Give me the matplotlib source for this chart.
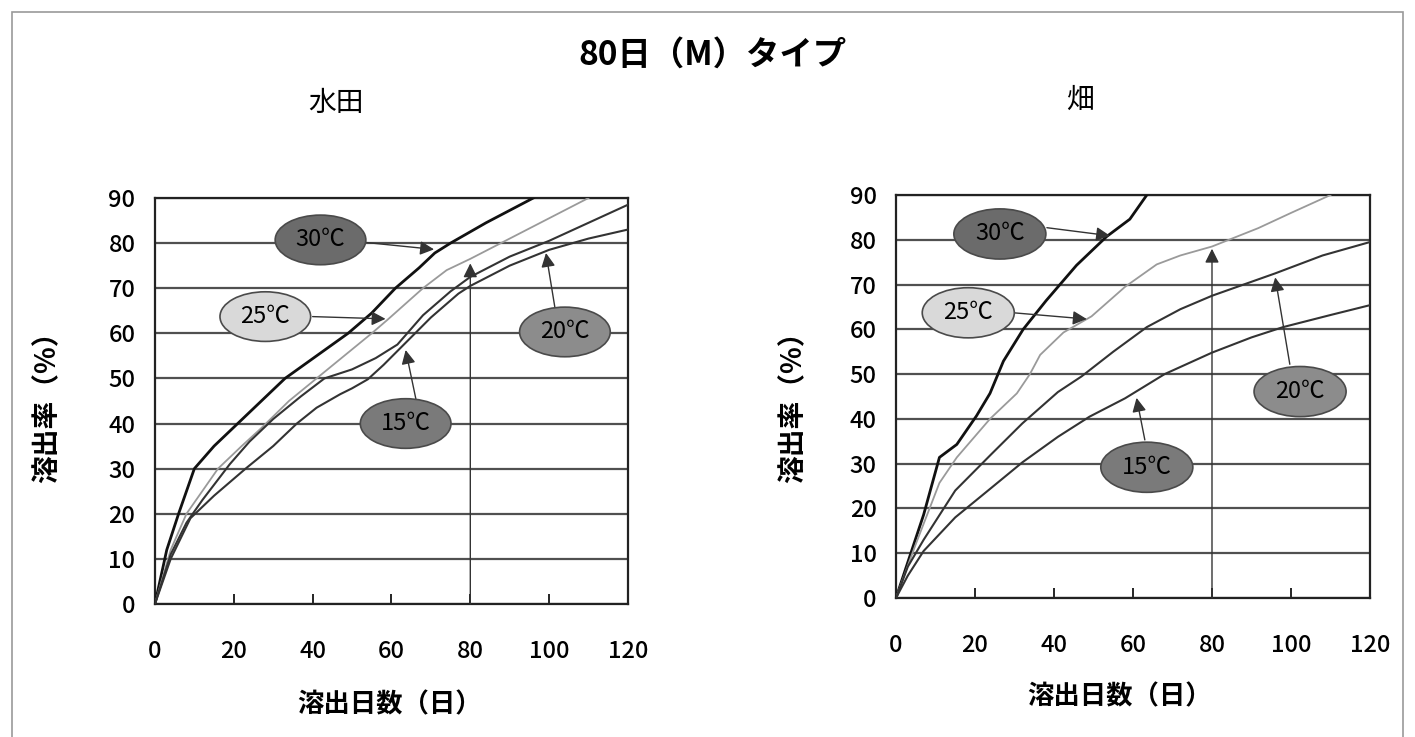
import matplotlib
matplotlib.use('Agg')
import matplotlib.pyplot as plt
from matplotlib.patches import Ellipse, Rectangle

plt.rcParams['font.family'] = ['Noto Sans CJK JP', 'DejaVu Sans']

# ---- 水田 (paddy) ----
paddy_x_30 = [0, 3, 6, 10, 15, 21, 27, 33, 41, 49, 55, 61, 67, 71, 75, 84, 96]
paddy_y_30 = [0, 12, 20, 30, 35, 40, 45, 50, 55, 60, 64.5, 70, 74.5, 77.8, 80, 84.5, 90]
paddy_x_25 = [0, 4, 8, 12, 16, 22, 27, 34, 41, 48, 55, 59, 68, 74, 80, 90, 100, 110]
paddy_y_25 = [0, 12, 20, 25, 30, 35, 39, 45, 50, 55, 60, 63, 70, 74, 76.5, 81, 85.5, 90]
paddy_x_20 = [0, 4, 8, 12, 19, 24, 30, 37, 43, 50, 56, 61.5, 68, 75, 80, 90, 100, 110, 120]
paddy_y_20 = [0, 11, 18, 23, 31, 36, 41, 46, 50, 52, 54.5, 57.5, 64, 69.3, 72.5, 77, 80.5, 84.5, 88.5]
paddy_x_15 = [0, 4, 9, 15, 23, 30, 36, 41, 47, 50, 54, 58, 62, 70, 77, 80, 90, 100, 110, 120]
paddy_y_15 = [0, 10, 19, 24, 30, 35, 40, 43.5, 46.5, 47.8, 49.8, 53, 56.5, 63.5, 68.8, 70.5, 75, 78.5, 81, 83]

# ---- 畑 (upland) ----
field_x_30 = [0, 3, 7, 11, 15.4, 20.4, 23.8, 27.2, 32.2, 38, 45.7, 53.3, 59.2, 63.5]
field_y_30 = [0, 8, 18.6, 31.4, 34.3, 40.7, 45.7, 52.9, 60, 66.4, 74.3, 80.7, 84.6, 90]
field_x_25 = [0, 5, 11, 15.4, 23.8, 30.6, 33.9, 36.5, 42.4, 49.5, 58, 66, 72, 80, 91.7, 100, 110]
field_y_25 = [0, 12, 25.7, 31.4, 40, 45.7, 50, 54.3, 59.3, 62.9, 69.5, 74.5, 76.5, 78.5, 82.6, 86, 90]
field_x_20 = [0, 3, 7, 15, 24, 32, 41, 47, 55, 63.5, 72, 80, 88, 96, 108, 120]
field_y_20 = [0, 7, 13, 24, 32, 39, 46, 49.5, 55, 60.5, 64.5, 67.5, 70, 72.5, 76.5, 79.5]
field_x_15 = [0, 3, 7, 15, 24, 32, 41, 49, 58, 68, 80, 90, 98, 110, 120]
field_y_15 = [0, 5, 10.5, 18, 24.5, 30.3, 36, 40.5, 44.6, 50, 54.8, 58.2, 60.5, 63.2, 65.4]

temps = ['30℃', '25℃', '20℃', '15℃']

fig = plt.figure(figsize=(14.15, 7.37), dpi=100)
fig.add_artist(Rectangle((12 / 1415, -0.05), 1391 / 1415, 1.05 - 12 / 737,
                         transform=fig.transFigure, fill=False,
                         edgecolor='#9a9a9a', lw=1.2))

ax1 = fig.add_axes([0.1095, 0.1805, 0.3343, 0.5509])
ax2 = fig.add_axes([0.6332, 0.1886, 0.3350, 0.5468])


def setup(ax):
    ax.set_xlim(0, 120)
    ax.set_ylim(0, 90)
    ax.set_xticks(range(0, 121, 20))
    ax.set_yticks(range(0, 91, 10))
    ax.grid(axis='y', color='#505050', lw=1.6)
    ax.set_axisbelow(True)
    ax.tick_params(axis='x', direction='in', length=7, width=1.2, pad=26, labelsize=17)
    ax.tick_params(axis='y', length=0, pad=14, labelsize=17)
    for lab in ax.get_xticklabels() + ax.get_yticklabels():
        lab.set_fontweight('medium')
    for s in ax.spines.values():
        s.set_linewidth(1.6)
        s.set_color('#222222')


def curves(ax, data):
    styles = [('#111111', 2.0), ('#9a9a9a', 1.3), ('#333333', 1.5), ('#333333', 1.5)]
    for (xs, ys), (c, lw) in zip(data, styles):
        ax.plot(xs, ys, color=c, lw=lw, zorder=3)


def label(ax, text, center, size, face, start, tip):
    ax.annotate('', xy=tip, xytext=start, zorder=4,
                arrowprops=dict(arrowstyle='-|>,head_length=0.6,head_width=0.3',
                                color='#333333', lw=1.0, mutation_scale=14,
                                shrinkA=0, shrinkB=0))
    ax.add_patch(Ellipse(center, size[0], size[1], facecolor=face,
                         edgecolor='#4a4a4a', lw=1.2, zorder=5))
    ax.text(center[0], center[1], text, ha='center', va='center',
            fontsize=17, zorder=6)


faces = ['#6b6b6b', '#d9d9d9', '#8c8c8c', '#7a7a7a']

# left: 水田
setup(ax1)
curves(ax1, [(paddy_x_30, paddy_y_30), (paddy_x_25, paddy_y_25),
             (paddy_x_20, paddy_y_20), (paddy_x_15, paddy_y_15)])
ax1.annotate('', xy=(80, 75.5), xytext=(80, 0), zorder=4,
             arrowprops=dict(arrowstyle='-|>,head_length=0.6,head_width=0.3',
                             color='#333333', lw=1.0, mutation_scale=14,
                             shrinkA=0, shrinkB=0))
ls = (23, 11)
label(ax1, temps[0], (42, 80.7), ls, faces[0], (52.7, 80.2), (70.8, 78.6))
label(ax1, temps[1], (28, 63.7), ls, faces[1], (40, 63.7), (58.5, 63.2))
label(ax1, temps[2], (104, 60.3), ls, faces[2], (101.5, 65.5), (99.2, 77.8))
label(ax1, temps[3], (63.6, 40), ls, faces[3], (66.3, 45), (63.6, 56.3))

# right: 畑
setup(ax2)
curves(ax2, [(field_x_30, field_y_30), (field_x_25, field_y_25),
             (field_x_20, field_y_20), (field_x_15, field_y_15)])
ax2.annotate('', xy=(80, 78), xytext=(80, 0), zorder=4,
             arrowprops=dict(arrowstyle='-|>,head_length=0.6,head_width=0.3',
                             color='#333333', lw=1.0, mutation_scale=14,
                             shrinkA=0, shrinkB=0))
rs = (23.3, 11.2)
label(ax2, temps[0], (26.3, 81.3), rs, faces[0], (38.2, 82.7), (54.2, 80.9))
label(ax2, temps[1], (18.3, 63.7), rs, faces[1], (29.7, 63.7), (48.3, 62.3))
label(ax2, temps[2], (102.3, 46.1), rs, faces[2], (99.7, 52.2), (96, 71.6))
label(ax2, temps[3], (63.5, 29.2), rs, faces[3], (63, 35.3), (60.9, 44.7))

# texts
fig.text(712 / 1415, 1 - 55 / 737, '80日（M）タイプ', ha='center', va='center',
         fontsize=24, fontweight='bold')
fig.text(336 / 1415, 1 - 103 / 737, '水田', ha='center', va='center', fontsize=20)
fig.text(1080 / 1415, 1 - 100 / 737, '畑', ha='center', va='center', fontsize=20)
fig.text(390 / 1415, 1 - 705 / 737, '溶出日数（日）', ha='center', va='center',
         fontsize=19, fontweight='bold')
fig.text(1120 / 1415, 1 - 697 / 737, '溶出日数（日）', ha='center', va='center',
         fontsize=19, fontweight='bold')
fig.text(47 / 1415, 1 - 400 / 737, '溶出率（%）', ha='center', va='center',
         fontsize=20, fontweight='bold', rotation=90)
fig.text(793 / 1415, 1 - 400 / 737, '溶出率（%）', ha='center', va='center',
         fontsize=20, fontweight='bold', rotation=90)

fig.savefig('out.png', dpi=100, facecolor='white')
